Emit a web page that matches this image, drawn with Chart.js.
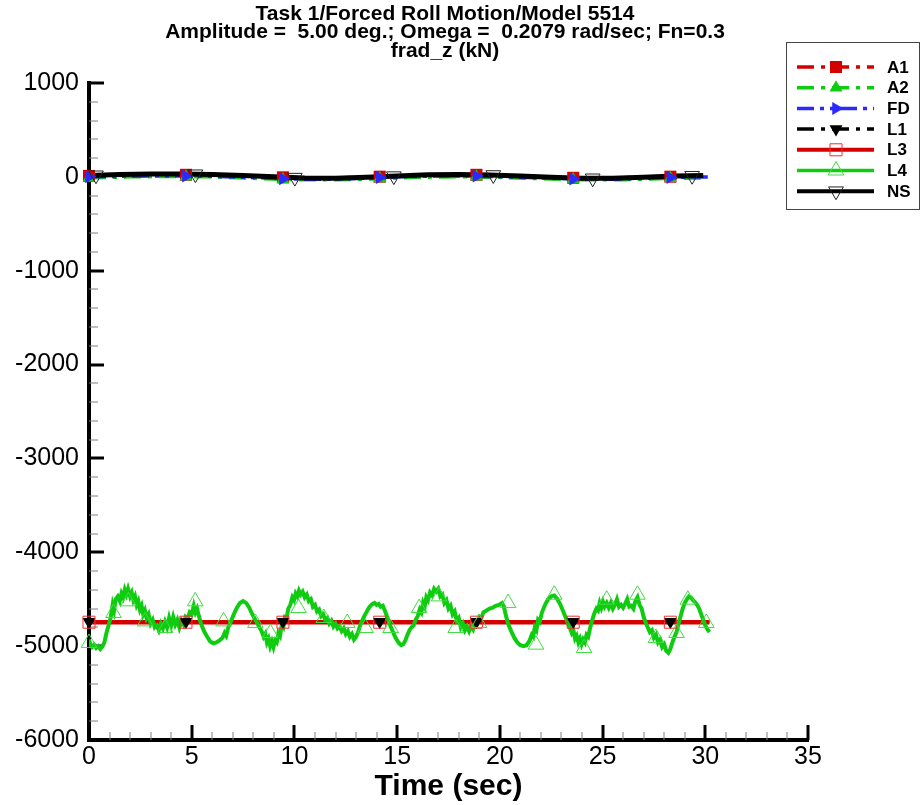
<!DOCTYPE html>
<html><head>
<meta charset="UTF-8">
<title>Task 1/Forced Roll Motion/Model 5514 - frad_z (kN)</title>
<script src="https://cdn.jsdelivr.net/npm/chart.js@4"></script>
<style>
body { margin: 0; background: #ffffff; }
.wrap { position: relative; width: 922px; height: 805px; }
</style>
</head>
<body>
<div class="wrap"><canvas id="chart"></canvas></div>
<script>
// --- text ---
const titleLines = [
  'Task 1/Forced Roll Motion/Model 5514',
  'Amplitude =  5.00 deg.; Omega =  0.2079 rad/sec; Fn=0.3',
  'frad_z (kN)'
];
const xTitle = 'Time (sec)';
const xTickValues = [0, 5, 10, 15, 20, 25, 30, 35];
const yTickValues = [1000, 0, -1000, -2000, -3000, -4000, -5000, -6000];

// --- series lines, [time s, force kN] ---
const a1 = [[0,10],[2,20],[4,25],[6,20],[8,5],[10,-10],[12,-12],[14,0],[16,15],[18,22],[20,15],[22,0],[24,-12],[26,-10],[28,2],[30.1,10]];
const a2 = [[0,-10],[2,0],[4,5],[6,0],[8,-15],[10,-30],[12,-32],[14,-20],[16,-5],[18,2],[20,-5],[22,-20],[24,-32],[26,-30],[28,-18],[30.1,-10]];
const fd = [[0,0],[1.5,5],[3,10],[4.5,10],[6,5],[7.5,-5],[9,-15],[10.5,-25],[12,-25],[13.5,-15],[15,0],[16.5,8],[18,10],[19.5,5],[21,-5],[22.5,-15],[24,-25],[25.5,-25],[27,-15],[28.5,-5],[30.2,0]];
const l1 = [[0,-4740],[30.2,-4740]];
const l3 = [[0,-4745],[30.2,-4745]];
const ns = [[0,15],[1.5,25],[3,30],[4.5,30],[6,25],[7.5,15],[9,0],[10.5,-12],[12,-15],[13.5,-5],[15,10],[16.5,22],[18,25],[19.5,20],[21,8],[22.5,-5],[24,-15],[25.5,-15],[27,-5],[28.5,8],[29.9,15]];
const l4 = [
  [0.00,-4930],[0.08,-4990],[0.15,-5010],[0.25,-4985],[0.35,-5020],[0.45,-5000],[0.55,-5030],[0.65,-5005],[0.75,-4960],[0.85,-4860],
  [0.95,-4780],[1.05,-4700],[1.15,-4560],[1.22,-4620],[1.30,-4500],[1.40,-4470],[1.50,-4520],[1.58,-4440],[1.66,-4480],[1.74,-4400],
  [1.82,-4450],[1.90,-4390],[2.00,-4470],[2.08,-4430],[2.16,-4510],[2.24,-4470],[2.32,-4560],[2.40,-4520],[2.48,-4610],[2.56,-4570],
  [2.64,-4660],[2.72,-4620],[2.80,-4700],[2.90,-4660],[3.00,-4760],[3.10,-4720],[3.20,-4800],[3.30,-4780],[3.40,-4830],[3.50,-4760],
  [3.60,-4810],[3.70,-4740],[3.80,-4800],[3.90,-4700],[4.00,-4780],[4.10,-4690],[4.20,-4770],[4.30,-4720],[4.40,-4800],[4.50,-4730],
  [4.60,-4770],[4.70,-4690],[4.80,-4710],[4.90,-4640],[5.00,-4660],[5.10,-4570],[5.18,-4640],[5.26,-4600],[5.35,-4680],[5.45,-4760],
  [5.60,-4840],[5.75,-4900],[5.90,-4950],[6.05,-4970],[6.20,-4960],[6.35,-4940],[6.50,-4910],[6.60,-4860],[6.68,-4890],[6.78,-4800],
  [6.90,-4740],[7.05,-4660],[7.20,-4590],[7.35,-4540],[7.50,-4520],[7.65,-4540],[7.80,-4590],[7.95,-4660],[8.10,-4720],[8.25,-4780],
  [8.40,-4840],[8.50,-4900],[8.58,-4870],[8.66,-4960],[8.74,-4920],[8.82,-5000],[8.90,-4950],[8.98,-5010],[9.06,-4940],[9.14,-4960],
  [9.22,-4860],[9.30,-4890],[9.38,-4780],[9.46,-4800],[9.54,-4690],[9.62,-4700],[9.70,-4600],[9.80,-4560],[9.90,-4480],[9.98,-4510],
  [10.06,-4440],[10.14,-4470],[10.22,-4410],[10.30,-4450],[10.40,-4420],[10.50,-4480],[10.60,-4450],[10.70,-4520],[10.80,-4500],[10.90,-4580],
  [11.00,-4560],[11.10,-4630],[11.20,-4610],[11.30,-4680],[11.40,-4660],[11.50,-4720],[11.60,-4700],[11.70,-4760],[11.80,-4730],[11.90,-4790],
  [12.00,-4760],[12.10,-4810],[12.20,-4790],[12.30,-4840],[12.40,-4810],[12.50,-4870],[12.60,-4840],[12.70,-4900],[12.80,-4870],[12.90,-4930],
  [13.00,-4900],[13.10,-4850],[13.20,-4780],[13.30,-4730],[13.40,-4680],[13.50,-4640],[13.60,-4600],[13.70,-4570],[13.80,-4550],[13.90,-4540],
  [14.00,-4560],[14.10,-4550],[14.20,-4580],[14.30,-4570],[14.40,-4620],[14.50,-4680],[14.60,-4740],[14.70,-4800],[14.80,-4850],[14.90,-4900],
  [15.00,-4940],[15.10,-4970],[15.20,-4990],[15.30,-4980],[15.40,-4940],[15.50,-4880],[15.60,-4830],[15.70,-4800],[15.80,-4780],[15.90,-4720],
  [16.00,-4680],[16.10,-4610],[16.18,-4640],[16.26,-4540],[16.34,-4580],[16.42,-4480],[16.50,-4510],[16.60,-4430],[16.70,-4460],[16.80,-4390],
  [16.90,-4420],[17.00,-4390],[17.10,-4470],[17.20,-4450],[17.30,-4540],[17.40,-4510],[17.50,-4600],[17.60,-4570],[17.70,-4660],[17.80,-4630],
  [17.90,-4730],[18.00,-4700],[18.10,-4800],[18.20,-4760],[18.30,-4830],[18.40,-4790],[18.50,-4840],[18.60,-4780],[18.70,-4820],[18.80,-4750],
  [18.90,-4760],[19.00,-4690],[19.10,-4700],[19.20,-4640],[19.35,-4620],[19.50,-4600],[19.65,-4590],[19.80,-4570],[19.95,-4560],[20.10,-4540],
  [20.20,-4580],[20.30,-4680],[20.40,-4760],[20.55,-4840],[20.70,-4910],[20.85,-4960],[21.00,-4990],[21.15,-5000],[21.30,-4990],[21.45,-4940],
  [21.55,-4880],[21.62,-4900],[21.70,-4800],[21.78,-4830],[21.86,-4720],[21.94,-4740],[22.05,-4640],[22.20,-4560],[22.35,-4500],[22.50,-4470],
  [22.65,-4460],[22.80,-4500],[22.95,-4560],[23.10,-4640],[23.25,-4720],[23.40,-4800],[23.50,-4860],[23.58,-4830],[23.66,-4920],[23.74,-4890],
  [23.82,-4960],[23.90,-4920],[23.98,-4980],[24.06,-4930],[24.14,-4960],[24.22,-4880],[24.30,-4900],[24.40,-4800],[24.50,-4720],[24.60,-4650],
  [24.70,-4600],[24.78,-4620],[24.86,-4540],[24.94,-4590],[25.02,-4530],[25.10,-4580],[25.20,-4540],[25.30,-4590],[25.40,-4540],[25.50,-4600],
  [25.60,-4560],[25.70,-4500],[25.80,-4580],[25.90,-4560],[26.00,-4590],[26.10,-4550],[26.20,-4500],[26.30,-4580],[26.40,-4570],[26.50,-4600],
  [26.60,-4520],[26.70,-4480],[26.80,-4560],[26.90,-4600],[27.00,-4690],[27.10,-4750],[27.20,-4800],[27.30,-4850],[27.40,-4830],[27.50,-4910],
  [27.60,-4880],[27.70,-4960],[27.80,-4930],[27.90,-5010],[28.00,-4980],[28.10,-5050],[28.20,-5070],[28.30,-5030],[28.40,-4960],[28.50,-4900],
  [28.60,-4850],[28.70,-4760],[28.80,-4680],[28.90,-4600],[29.00,-4540],[29.10,-4500],[29.20,-4470],[29.30,-4480],[29.40,-4510],[29.50,-4530],
  [29.60,-4560],[29.70,-4600],[29.80,-4660],[29.90,-4720],[30.00,-4780],[30.10,-4820],[30.20,-4850]
];

// --- symbols (every n-th sample in the original plot) ---
const markTimes = [0, 4.72, 9.44, 14.15, 18.86, 23.57, 28.3];
const nsMarkTimes = [0.34, 5.18, 10.02, 14.84, 19.68, 24.52, 29.36];
const a1Marks = [10, 22, -5, 2, 22, -10, 2];
const a2Marks = [-12, 2, -28, -18, 0, -28, -16];
const fdMarks = [0, 10, -20, -8, 10, -22, -8];
const l1Marks = [-4740, -4740, -4740, -4740, -4740, -4740, -4740];
const l3Marks = [-4745, -4745, -4745, -4745, -4745, -4745, -4745];
const nsMarks = [17, 28, -8, 8, 20, -15, 12];
const l4Marks = [
  [0.0,-4966],[1.19,-4647],[1.92,-4523],[2.73,-4736],[3.71,-4807],[5.17,-4523],[6.55,-4736],[8.1,-4753],
  [8.83,-4860],[10.2,-4594],[11.43,-4700],[12.57,-4753],[13.46,-4807],[14.68,-4807],[16.07,-4594],[17.04,-4470],
  [17.85,-4807],[18.99,-4753],[20.4,-4541],[21.76,-4984],[22.65,-4452],[24.1,-5020],[25.2,-4505],[26.7,-4452],
  [27.6,-4913],[28.6,-4860],[29.15,-4505],[30.05,-4753]
];

const FONT = '"Liberation Sans", Arial, Helvetica, sans-serif';
const RED = '#d40000', GREEN = '#10cc10', BLUE = '#2a2aff', BLACK = '#000000';

// style per series, in legend order
const series = [
  { name: 'A1', line: a1, marks: markTimes.map((t, i) => ({ x: t, y: a1Marks[i] })), color: RED,   width: 3.5, dash: [17, 7, 4, 7], shape: 'rect', rot: 0, r: 8.5, open: false },
  { name: 'A2', line: a2, marks: markTimes.map((t, i) => ({ x: t, y: a2Marks[i] })), color: GREEN, width: 3.5, dash: [17, 7, 4, 7], shape: 'triangle', rot: 0, r: 7.5, open: false },
  { name: 'FD', line: fd, marks: markTimes.map((t, i) => ({ x: t, y: fdMarks[i] })), color: BLUE,  width: 3.5, dash: [17, 6, 4, 6, 4, 6], shape: 'triangle', rot: 90, r: 7.5, open: false },
  { name: 'L1', line: l1, marks: markTimes.map((t, i) => ({ x: t, y: l1Marks[i] })), color: BLACK, width: 3.5, dash: [17, 7, 4, 7], shape: 'triangle', rot: 180, r: 7.5, open: false },
  { name: 'L3', line: l3, marks: markTimes.map((t, i) => ({ x: t, y: l3Marks[i] })), color: RED,   width: 4.5, dash: [], shape: 'rect', rot: 0, r: 8.5, open: true, markColor: '#ee3030' },
  { name: 'L4', line: l4, marks: l4Marks.map(p => ({ x: p[0], y: p[1] })), color: GREEN, width: 4, dash: [], shape: 'triangle', rot: 0, r: 9, open: true, markColor: '#40dd40' },
  { name: 'NS', line: ns, marks: nsMarkTimes.map((t, i) => ({ x: t, y: nsMarks[i] })), color: BLACK, width: 5, dash: [], shape: 'triangle', rot: 180, r: 8.5, open: true, markColor: '#222222' }
];

const datasets = [];
const total = series.length * 2;
series.forEach((s, i) => {
  datasets.push({
    label: s.name,
    data: s.line.map(p => ({ x: p[0], y: p[1] })),
    borderColor: s.color,
    borderWidth: s.width,
    borderDash: s.dash,
    pointRadius: 0,
    tension: 0,
    fill: false,
    order: total - i
  });
});
series.forEach((s, i) => {
  datasets.push({
    label: s.name + ' symbols',
    data: s.marks,
    showLine: false,
    pointStyle: s.shape,
    pointRotation: s.rot,
    pointRadius: s.r,
    pointBorderWidth: s.open ? 1 : 0,
    pointBorderColor: s.open ? s.markColor : s.color,
    pointBackgroundColor: s.open ? 'rgba(0,0,0,0)' : s.color,
    clip: false,
    order: series.length - i
  });
});

function drawMarker(ctx, s, x, y) {
  ctx.save();
  ctx.translate(x, y);
  ctx.rotate(s.rot * Math.PI / 180);
  ctx.beginPath();
  if (s.shape === 'rect') {
    const h = s.r * Math.SQRT1_2;
    ctx.rect(-h, -h, 2 * h, 2 * h);
  } else {
    ctx.moveTo(0, -s.r);
    ctx.lineTo(s.r * 0.866, s.r * 0.5);
    ctx.lineTo(-s.r * 0.866, s.r * 0.5);
    ctx.closePath();
  }
  if (s.open) {
    ctx.strokeStyle = s.markColor;
    ctx.lineWidth = 1;
    ctx.stroke();
  } else {
    ctx.fillStyle = s.color;
    ctx.fill();
  }
  ctx.restore();
}

// titles on top, drawn centred over the plot
const titlePlugin = {
  id: 'titleBlock',
  afterDraw(chart) {
    const ctx = chart.ctx;
    ctx.save();
    ctx.fillStyle = '#000';
    ctx.font = 'bold 21px ' + FONT;
    ctx.textAlign = 'center';
    ctx.textBaseline = 'middle';
    titleLines.forEach((t, i) => ctx.fillText(t, 445, 14 + i * 18.5));
    ctx.restore();
  }
};

// tecplot style ticks pointing into the plot
const innerTicks = {
  id: 'innerTicks',
  beforeDatasetsDraw(chart) {
    const { ctx, scales: { x, y }, chartArea: a } = chart;
    ctx.save();
    for (let t = x.min; t <= x.max; t += 1) {
      const px = Math.round(x.getPixelForValue(t));
      const major = t % 5 === 0;
      ctx.beginPath();
      ctx.strokeStyle = major ? '#000' : '#808080';
      ctx.lineWidth = major ? 3 : 1;
      ctx.moveTo(px, a.bottom);
      ctx.lineTo(px, a.bottom - (major ? 15 : 8));
      ctx.stroke();
    }
    for (let v = y.min; v <= y.max; v += 200) {
      const py = Math.round(y.getPixelForValue(v));
      const major = v % 1000 === 0;
      ctx.beginPath();
      ctx.strokeStyle = major ? '#000' : '#808080';
      ctx.lineWidth = major ? 3 : 1;
      ctx.moveTo(a.left, py);
      ctx.lineTo(a.left + (major ? 15 : 9), py);
      ctx.stroke();
    }
    ctx.restore();
  }
};

// boxed legend: line sample with the symbol in the middle
const legendBox = {
  id: 'legendBox',
  afterDraw(chart) {
    const ctx = chart.ctx;
    const bx = 786, by = 42, bw = 133, bh = 167;
    ctx.save();
    ctx.fillStyle = '#fff';
    ctx.fillRect(bx, by, bw, bh);
    ctx.strokeStyle = '#444';
    ctx.lineWidth = 1;
    ctx.strokeRect(bx + 0.5, by + 0.5, bw, bh);
    series.forEach((s, i) => {
      const yy = 67 + i * 20.7;
      ctx.beginPath();
      ctx.setLineDash(s.dash);
      ctx.strokeStyle = s.color;
      ctx.lineWidth = s.width > 4 ? 4 : 3.5;
      ctx.moveTo(797, yy);
      ctx.lineTo(874, yy);
      ctx.stroke();
      ctx.setLineDash([]);
      drawMarker(ctx, s, 836, yy);
      ctx.fillStyle = '#000';
      ctx.font = 'bold 17px ' + FONT;
      ctx.textAlign = 'left';
      ctx.textBaseline = 'middle';
      ctx.fillText(s.name, 887, yy + 1);
    });
    ctx.restore();
  }
};

new Chart(document.getElementById('chart'), {
  type: 'line',
  data: { datasets: datasets },
  options: {
    responsive: true,
    maintainAspectRatio: false,
    animation: false,
    layout: { padding: { top: 83, right: 114, bottom: 0, left: 0 } },
    plugins: { legend: { display: false }, title: { display: false }, tooltip: { enabled: false } },
    scales: {
      x: {
        type: 'linear',
        min: 0,
        max: 35,
        afterBuildTicks: (sc) => { sc.ticks = xTickValues.map(v => ({ value: v })); },
        afterFit: (sc) => { sc.height = 65; },
        grid: { display: false, drawTicks: false },
        border: { display: true, color: '#000', width: 4 },
        ticks: { color: '#000', font: { family: FONT, size: 25 }, padding: 2, maxRotation: 0, autoSkip: false, callback: (v) => String(v) },
        title: { display: true, text: xTitle, color: '#000', font: { family: FONT, size: 30, weight: 'bold' }, padding: { top: 3, bottom: 0 } }
      },
      y: {
        type: 'linear',
        min: -6000,
        max: 1000,
        afterBuildTicks: (sc) => { sc.ticks = yTickValues.map(v => ({ value: v })); },
        afterFit: (sc) => { sc.width = 89; },
        grid: { display: false, drawTicks: false },
        border: { display: true, color: '#000', width: 4 },
        ticks: { color: '#000', font: { family: FONT, size: 25 }, padding: 10, autoSkip: false, callback: (v) => String(v) }
      }
    }
  },
  plugins: [innerTicks, titlePlugin, legendBox]
});
</script>
</body></html>
